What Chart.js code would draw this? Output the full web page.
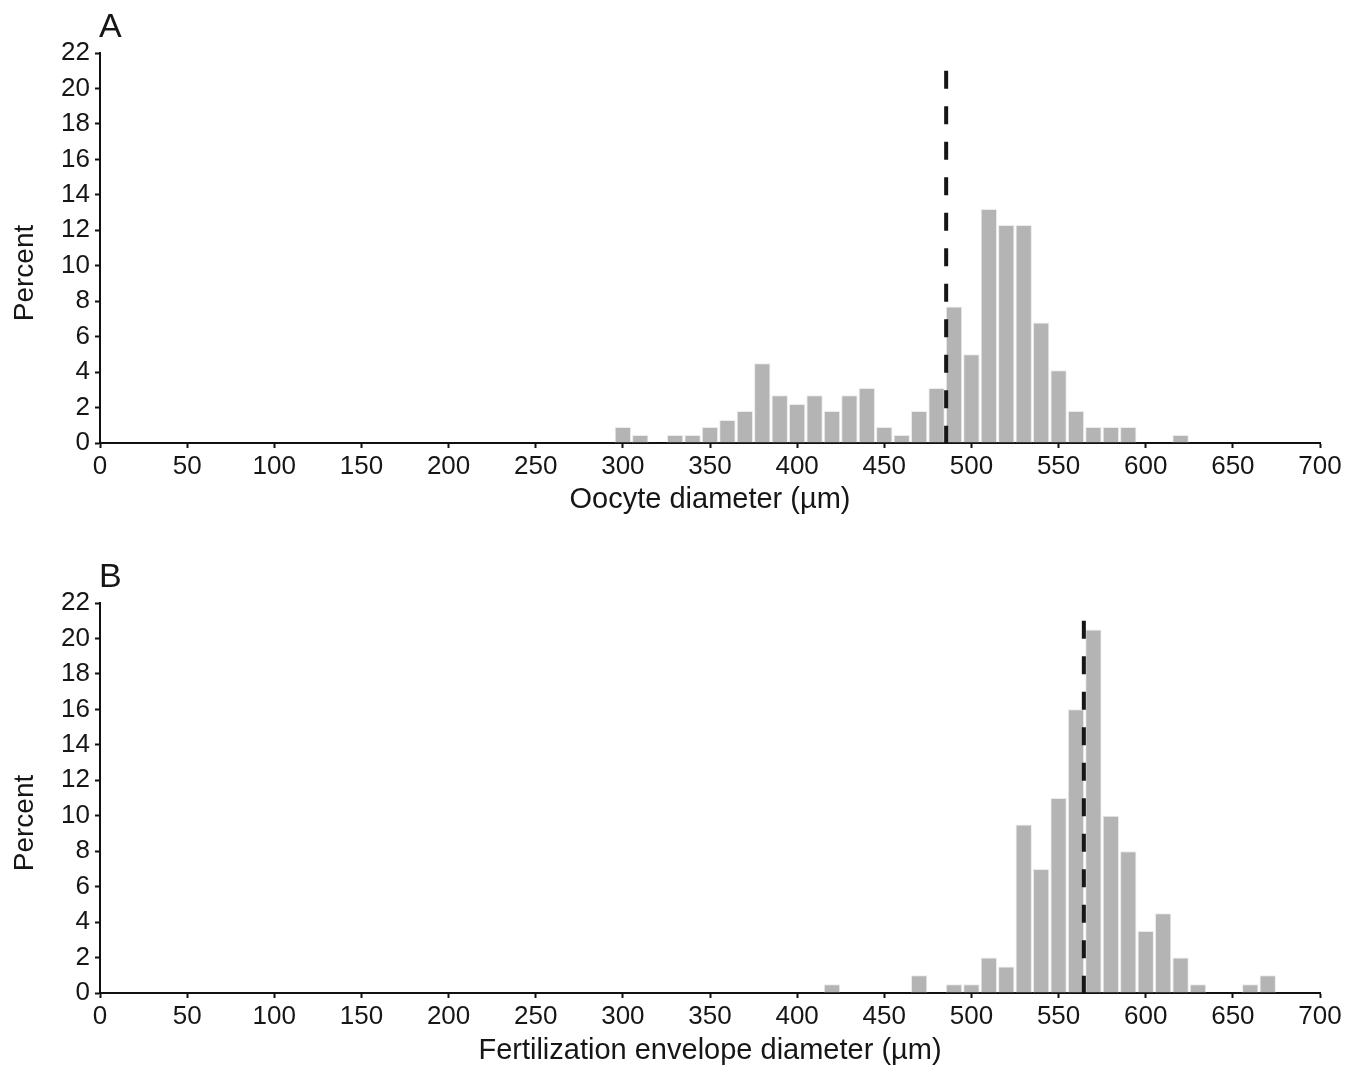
<!DOCTYPE html>
<html>
<head>
<meta charset="utf-8">
<script src="https://cdn.jsdelivr.net/npm/chart.js@4"></script>
<style>
  body { margin: 0; background: #fff; overflow: hidden; }
  canvas { position: absolute; left: 0; }
  #chartA { top: 0; }
  #chartB { top: 550px; }
</style>
</head>
<body>
<canvas id="chartA" width="1357" height="540"></canvas>
<canvas id="chartB" width="1357" height="518"></canvas>
<script>
// bin centres (µm) and percent of eggs per 10 µm bin
var binsA = [300,310,320,330,340,350,360,370,380,390,400,410,420,430,440,450,460,
             470,480,490,500,510,520,530,540,550,560,570,580,590,600,610,620];
var percentA = [0.9,0.45,0,0.45,0.45,0.9,1.3,1.8,4.5,2.7,2.2,2.7,1.8,2.7,3.1,0.9,0.45,
                1.8,3.1,7.7,5.0,13.2,12.3,12.3,6.8,4.1,1.8,0.9,0.9,0.9,0,0,0.45];
var meanA = 485.5;

var binsB = [420,430,440,450,460,470,480,490,500,510,520,530,540,550,560,570,580,590,
             600,610,620,630,640,650,660,670];
var percentB = [0.5,0,0,0,0,1,0,0.5,0.5,2,1.5,9.5,7,11,16,20.5,10,8,
                3.5,4.5,2,0.5,0,0,0.5,1];
var meanB = 564.5;

var xTicks = [0,50,100,150,200,250,300,350,400,450,500,550,600,650,700];
var yTicks = [0,2,4,6,8,10,12,14,16,18,20,22];
var meanLineTop = 21;

var textColor = '#161616';
var fontName = "'Liberation Sans', Arial, Helvetica, sans-serif";

// panel letter and rotated y title
var labelsPlugin = {
  id: 'panelLabels',
  afterDraw: function (chart, args, opts) {
    var ctx = chart.ctx;
    ctx.save();
    ctx.fillStyle = textColor;
    ctx.font = '34px ' + fontName;
    ctx.textBaseline = 'alphabetic';
    ctx.textAlign = 'left';
    ctx.fillText(opts.letter, 99, 37);
    ctx.font = '28px ' + fontName;
    ctx.translate(33, 273);
    ctx.rotate(-Math.PI / 2);
    ctx.textAlign = 'center';
    ctx.textBaseline = 'alphabetic';
    ctx.fillText('Percent', 0, 0);
    ctx.restore();
  }
};

function makeChart(id, bins, values, mean, xTitle, letter, xTitlePad) {
  var bars = bins.map(function (b, i) { return { x: b, y: values[i] }; });
  return new Chart(document.getElementById(id), {
    type: 'bar',
    data: {
      datasets: [
        {
          type: 'line',
          data: [{ x: mean, y: meanLineTop }, { x: mean, y: 0 }],
          borderColor: '#161616',
          borderWidth: 4,
          borderDash: [18, 17.5],
          pointRadius: 0,
          fill: false
        },
        {
          data: bars,
          backgroundColor: '#b4b4b4',
          borderColor: '#ececec',
          borderWidth: 1,
          categoryPercentage: 1,
          barPercentage: 0.94
        }
      ]
    },
    options: {
      responsive: false,
      animation: false,
      layout: { padding: { top: 53, right: 37, left: 0, bottom: 0 } },
      plugins: {
        legend: { display: false },
        tooltip: { enabled: false },
        panelLabels: { letter: letter }
      },
      scales: {
        x: {
          type: 'linear',
          min: 0,
          max: 700,
          offset: false,
          z: 1,
          afterFit: function (scale) { scale.height = scale.chart.height - 443; },
          afterBuildTicks: function (scale) {
            scale.ticks = xTicks.map(function (v) { return { value: v }; });
          },
          grid: { offset: false, drawOnChartArea: false, drawTicks: true, tickLength: 5, tickWidth: 2, tickColor: '#111' },
          border: { display: true, color: '#111', width: 2 },
          ticks: { color: textColor, padding: 3, maxRotation: 0, autoSkip: false, font: { family: fontName, size: 26 } },
          title: {
            display: true,
            text: xTitle,
            color: textColor,
            font: { family: fontName, size: 29 },
            padding: { top: 0, bottom: xTitlePad }
          }
        },
        y: {
          min: 0,
          max: 22,
          z: 1,
          afterFit: function (scale) { scale.width = 100; },
          afterBuildTicks: function (scale) {
            scale.ticks = yTicks.map(function (v) { return { value: v }; });
          },
          grid: { drawOnChartArea: false, drawTicks: true, tickLength: 5, tickWidth: 2, tickColor: '#111' },
          border: { display: true, color: '#111', width: 2 },
          ticks: { color: textColor, padding: 5, autoSkip: false, font: { family: fontName, size: 26 } }
        }
      }
    },
    plugins: [labelsPlugin]
  });
}

makeChart('chartA', binsA, percentA, meanA, 'Oocyte diameter (\u00b5m)', 'A', 23);
makeChart('chartB', binsB, percentB, meanB, 'Fertilization envelope diameter (\u00b5m)', 'B', 0);
</script>
</body>
</html>
